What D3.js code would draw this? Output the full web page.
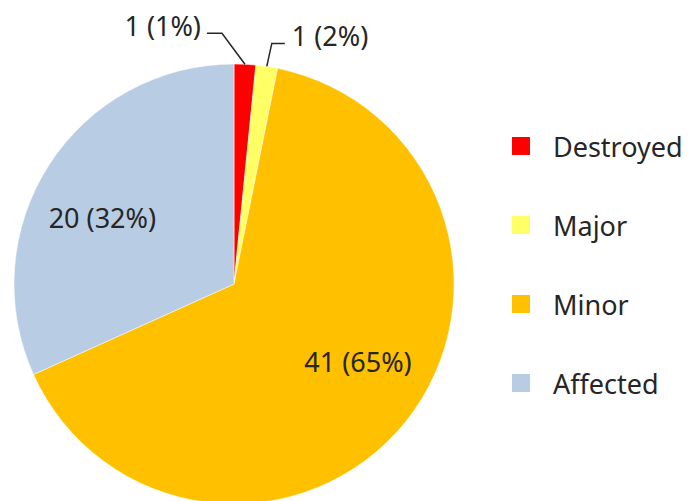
<!DOCTYPE html>
<html>
<head>
<style>
  body {
    background-color: white;
    margin: 0px;
  }
  text {
    font-family: "Noto Sans", sans-serif;
    fill: #262626;
  }
</style>
<script src="https://d3js.org/d3.v7.min.js"></script>
</head>
<body>
  <svg></svg>
</body>
<script>
const categories = ["Destroyed", "Major", "Minor", "Affected"];
const values = [1, 1, 41, 20];
const labels = ["1 (1%)", "1 (2%)", "41 (65%)", "20 (32%)"];
const colors = ["#ff0000", "#ffff66", "#ffc000", "#b8cce4"];

const width = 700,
    height = 501;
const radius = 220;
const cx = 234, cy = 284;
const fontSize = "27px";

const svg = d3.select("svg")
    .attr("width", width)
    .attr("height", height)

const pie = d3.pie().sort(null).value(function(d) {return d});
const arcs = pie(values);

const arc = d3.arc().innerRadius(0).outerRadius(radius);
const edgeArc = d3.arc().innerRadius(radius).outerRadius(radius);
const labelArc = d3.arc().innerRadius(radius * 0.68).outerRadius(radius * 0.68);

const g = svg.append("g")
    .attr("transform", "translate(" + cx + "," + cy + ")");

g.selectAll("path.slice")
    .data(arcs)
  .enter().append("path")
    .attr("class", "slice")
    .attr("d", arc)
    .style("fill", function(d, i) {return colors[i]})
    .style("stroke", "white")
    .style("stroke-width", 0.5);

// inside labels for the big slices (small nudges to match the Excel placement)
const nudge = {2: [7, -16], 3: [-6, 15]};
[2, 3].forEach(function(i) {
  const c = labelArc.centroid(arcs[i]);
  g.append("text")
      .attr("x", c[0] + nudge[i][0])
      .attr("y", c[1] + nudge[i][1])
      .attr("text-anchor", "middle")
      .attr("dominant-baseline", "central")
      .style("font-size", fontSize)
      .text(labels[i]);
});

// leader lines for the thin slices
const leader = {
  0: {elbow: [-23, -31], end: [-38, -31], anchor: "end"},
  1: {elbow: [5, -23], end: [18, -23], anchor: "start"}
};
[0, 1].forEach(function(i) {
  const p = edgeArc.centroid(arcs[i]);
  const L = leader[i];
  const e = [p[0] + L.elbow[0], p[1] + L.elbow[1]];
  const t = [p[0] + L.end[0], p[1] + L.end[1]];
  g.append("path")
      .attr("d", "M" + [p, e, t].join("L"))
      .style("fill", "none")
      .style("stroke", "#262626")
      .style("stroke-width", 1.5);
  g.append("text")
      .attr("x", t[0] + (L.anchor == "end" ? -6 : 7))
      .attr("y", t[1] - 8)
      .attr("text-anchor", L.anchor)
      .attr("dominant-baseline", "central")
      .style("font-size", fontSize)
      .text(labels[i]);
});

// legend
const legend = svg.append("g")
    .attr("transform", "translate(512,146)");

const item = legend.selectAll("g")
    .data(categories)
  .enter().append("g")
    .attr("transform", function(d, i) {return "translate(0," + (i * 79) + ")"});

item.append("rect")
    .attr("x", 0)
    .attr("y", -9)
    .attr("width", 18)
    .attr("height", 18)
    .style("fill", function(d, i) {return colors[i]});

item.append("text")
    .attr("x", 41)
    .attr("y", 0)
    .attr("dominant-baseline", "central")
    .style("font-size", fontSize)
    .text(function(d) {return d});
</script>
</html>
